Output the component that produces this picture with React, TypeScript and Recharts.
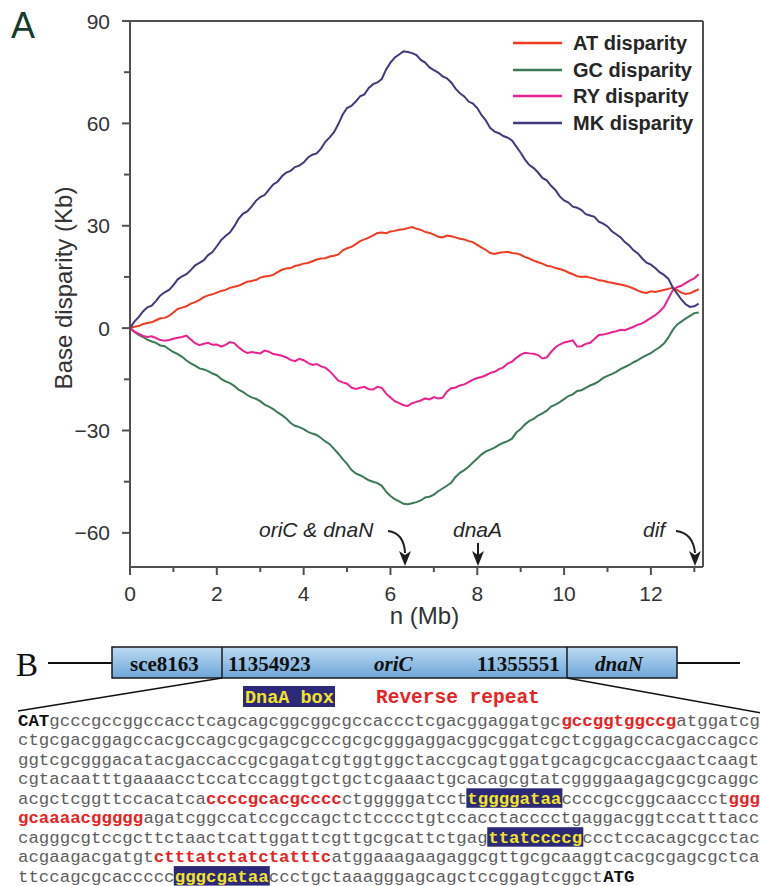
import { LineChart, Line, XAxis, YAxis, ReferenceLine, Legend } from "recharts";

// cumulative base disparity, every 0.1 Mb
const positionsMb = [
    0, 0.1, 0.2, 0.3, 0.4, 0.5, 0.6, 0.7, 0.8, 0.9,
    1.0, 1.1, 1.2, 1.3, 1.4, 1.5, 1.6, 1.7, 1.8, 1.9,
    2.0, 2.1, 2.2, 2.3, 2.4, 2.5, 2.6, 2.7, 2.8, 2.9,
    3.0, 3.1, 3.2, 3.3, 3.4, 3.5, 3.6, 3.7, 3.8, 3.9,
    4.0, 4.1, 4.2, 4.3, 4.4, 4.5, 4.6, 4.7, 4.8, 4.9,
    5.0, 5.1, 5.2, 5.3, 5.4, 5.5, 5.6, 5.7, 5.8, 5.9,
    6.0, 6.1, 6.2, 6.3, 6.4, 6.5, 6.6, 6.7, 6.8, 6.9,
    7.0, 7.1, 7.2, 7.3, 7.4, 7.5, 7.6, 7.7, 7.8, 7.9,
    8.0, 8.1, 8.2, 8.3, 8.4, 8.5, 8.6, 8.7, 8.8, 8.9,
    9.0, 9.1, 9.2, 9.3, 9.4, 9.5, 9.6, 9.7, 9.8, 9.9,
    10.0, 10.1, 10.2, 10.3, 10.4, 10.5, 10.6, 10.7, 10.8, 10.9,
    11.0, 11.1, 11.2, 11.3, 11.4, 11.5, 11.6, 11.7, 11.8, 11.9,
    12.0, 12.1, 12.2, 12.3, 12.4, 12.5, 12.6, 12.7, 12.8, 12.9,
    13.0, 13.1,
];

const atDisparity = [
    0, 0.4, 0.6, 1.2, 1.5, 1.7, 2.3, 2.9, 3.0, 3.6,
    4.6, 5.6, 6.0, 6.4, 7.2, 7.6, 8.3, 9.1, 9.6, 9.9,
    10.4, 10.9, 11.2, 11.8, 12.1, 12.4, 13.0, 13.6, 13.8, 14.1,
    14.8, 15.1, 15.3, 15.6, 16.4, 17.1, 17.5, 17.6, 18.2, 18.5,
    18.9, 19.1, 19.6, 20.1, 20.4, 20.5, 21.0, 21.2, 21.6, 22.8,
    23.4, 23.8, 24.6, 25.5, 26.0, 26.5, 27.2, 27.9, 28.0, 27.8,
    28.3, 28.5, 28.8, 29.0, 29.3, 29.6, 29.1, 28.8, 28.2, 27.9,
    27.4, 26.8, 26.6, 27.1, 26.9, 26.6, 26.2, 26.0, 25.5, 25.2,
    24.4, 23.6, 22.9, 22.0, 21.7, 22.1, 22.2, 22.4, 22.0, 21.9,
    21.5, 20.8, 20.4, 19.8, 19.3, 18.9, 18.3, 18.1, 17.6, 17.3,
    16.9, 16.3, 15.8, 15.2, 15.0, 15.1, 14.8, 14.5, 14.0, 13.9,
    13.5, 13.3, 13.0, 12.8, 12.5, 12.1, 11.6, 11.0, 10.5, 10.3,
    10.8, 10.6, 10.9, 11.2, 11.5, 11.8, 11.2, 10.4, 10.0, 10.2,
    10.8, 11.4,
];

const gcDisparity = [
    0, -1.1, -2.0, -2.6, -3.4, -3.9, -4.3, -5.1, -5.3, -6.2,
    -7.0, -7.6, -8.4, -9.5, -10.3, -11.0, -11.8, -12.1, -12.6, -13.3,
    -13.8, -14.9, -15.6, -16.1, -16.9, -18.0, -18.7, -19.6, -20.3, -20.7,
    -21.4, -22.4, -23.0, -23.7, -24.7, -25.5, -26.5, -27.8, -28.6, -29.0,
    -29.6, -30.4, -30.9, -31.3, -32.2, -33.2, -34.0, -35.4, -36.8, -38.4,
    -39.8, -41.5, -42.6, -43.1, -43.8, -44.6, -45.0, -45.4, -46.2, -47.9,
    -49.2, -50.1, -50.8, -51.5, -51.6, -51.3, -51.0, -50.5, -49.6, -49.4,
    -48.8, -47.8, -47.0, -46.2, -45.3, -43.6, -42.4, -41.6, -40.6, -39.4,
    -38.2, -37.0, -36.1, -35.6, -35.0, -34.2, -33.6, -33.1, -32.4, -30.6,
    -29.6, -28.2, -27.2, -26.6, -25.6, -25.0, -24.2, -23.0, -22.4, -21.7,
    -20.8, -19.9, -19.4, -18.4, -18.2, -17.5, -16.8, -16.3, -15.6, -14.6,
    -14.0, -13.5, -12.8, -12.0, -11.4, -10.8, -10.0, -9.4, -8.6, -7.9,
    -7.3, -6.4, -5.6, -4.5, -2.8, -0.6, 1.0, 1.9, 2.8, 3.6,
    4.4, 4.6,
];

const ryDisparity = [
    0, -1.0, -1.6, -2.3, -2.6, -2.4, -2.9, -3.5, -3.7, -3.5,
    -3.1, -2.8, -2.6, -2.2, -3.3, -4.4, -5.0, -4.6, -4.3, -4.9,
    -4.8, -5.4, -4.9, -4.1, -4.4, -5.6, -6.6, -7.3, -7.0, -7.2,
    -7.4, -6.6, -6.9, -7.6, -7.8, -8.1, -8.6, -9.3, -9.7, -9.0,
    -9.4, -10.2, -10.8, -10.5, -11.2, -11.6, -12.6, -14.0, -15.4, -15.9,
    -16.3, -17.4, -17.8, -17.5, -17.2, -17.9, -18.0, -17.2, -17.5, -19.2,
    -20.3, -21.4, -22.0, -22.6, -22.8, -22.0, -21.6, -21.2, -20.6, -20.9,
    -20.2, -20.6, -20.4, -18.6, -17.6, -17.4, -16.8, -16.5, -15.8, -15.1,
    -14.6, -14.3, -13.8, -13.1, -12.8, -12.0, -11.5, -10.4, -9.8, -8.7,
    -7.8, -7.2, -7.4, -7.5, -7.9, -8.9, -8.6, -7.0, -5.6, -4.8,
    -4.2, -3.9, -3.6, -5.4, -5.3, -4.6, -4.3, -3.2, -2.0, -1.9,
    -1.6, -1.2, -0.9, -0.5, -0.6, -0.1, 0.4, 1.0, 1.4, 2.2,
    3.0, 3.8, 4.9, 6.2, 8.6, 11.0, 12.0, 12.4, 13.2, 14.0,
    14.6, 15.8,
];

const mkDisparity = [
    0, 1.9, 3.2, 4.9, 6.1, 6.6, 8.0, 9.6, 10.5, 11.2,
    12.6, 14.3, 15.2, 15.8, 17.0, 18.4, 19.1, 19.9, 21.4, 22.3,
    24.0, 25.8, 27.0, 28.0, 29.8, 32.0, 33.5, 34.2, 35.6, 37.3,
    38.4, 39.0, 40.6, 42.1, 42.9, 44.5, 45.6, 46.1, 47.2, 47.6,
    48.5, 50.0, 50.8, 51.2, 52.6, 54.6, 55.9, 57.4, 59.8, 62.6,
    64.5, 65.1, 66.4, 67.9, 68.5, 70.4, 71.5, 72.0, 73.0, 75.8,
    77.8, 79.3, 80.2, 81.1, 80.9, 80.6, 80.0, 78.6, 77.8, 76.4,
    75.6, 74.9, 73.8, 73.2, 72.0, 70.2, 68.8, 67.9, 66.4, 65.8,
    64.5, 62.4, 60.8, 58.6, 57.6, 57.1, 56.3, 55.8, 55.0, 53.2,
    51.4, 49.4, 47.8, 46.9, 45.6, 44.0, 43.3, 41.7, 40.5, 38.6,
    37.4, 36.8, 35.6, 35.3, 34.6, 33.4, 33.0, 32.6, 31.2, 30.6,
    29.8, 28.4, 27.5, 26.6, 25.2, 24.2, 22.8, 21.9, 20.4, 19.2,
    18.6, 17.6, 16.4, 15.6, 14.5, 12.0, 10.2, 8.4, 7.0, 6.2,
    6.4, 7.2,
];

const xTicks = [0, 1, 2, 3, 4, 5, 6, 7, 8, 9, 10, 11, 12, 13];
const yTicks = [-60, -45, -30, -15, 0, 15, 30, 45, 60, 75, 90];

const SERIES = [
    { key: "at", name: "AT disparity", color: "#f03b22" },
    { key: "gc", name: "GC disparity", color: "#3b7a55" },
    { key: "ry", name: "RY disparity", color: "#ea2190" },
    { key: "mk", name: "MK disparity", color: "#3d3b7e" },
];

// panel B: oriC region, segments are [text, kind]
// n = plain, r = reverse repeat, h = DnaA box, b = start/stop codon
const SEQ_LINES: [string, string][][] = [
    [["CAT", "b"], ["gcccgccggccacctcagcagcggcggcgccaccctcgacggaggatgc", "n"], ["gccggtggccg", "r"], ["atggatcg", "n"]],
    [["ctgcgacggagccacgccagcgcgagcgcccgcgcgggaggacggcggatcgctcggagccacgaccagcc", "n"]],
    [["ggtcgcgggacatacgaccaccgcgagatcgtggtggctaccgcagtggatgcagcgcaccgaactcaagt", "n"]],
    [["cgtacaatttgaaaacctccatccaggtgctgctcgaaactgcacagcgtatcggggaagagcgcgcaggc", "n"]],
    [["acgctcggttccacatca", "n"], ["ccccgcacgcccc", "r"], ["ctgggggatcct", "n"], ["tggggataa", "h"], ["ccccgccggcaaccct", "n"], ["ggg", "r"]],
    [["gcaaaacggggg", "r"], ["agatcggccatccgccagctctcccctgtccacctacccctgaggacggtccatttacc", "n"]],
    [["cagggcgtccgcttctaactcattggattcgttgcgcattctgag", "n"], ["ttatccccg", "h"], ["ccctccacagcgcctac", "n"]],
    [["acgaagacgatgt", "n"], ["ctttatctatctatttc", "r"], ["atggaaagaagaggcgttgcgcaaggtcacgcgagcgctca", "n"]],
    [["ttccagcgcaccccc", "n"], ["gggcgataa", "h"], ["ccctgctaaagggagcagctccggagtcggct", "n"], ["ATG", "b"]],
];

const chartData = positionsMb.map((n, i) => ({
    n,
    at: atDisparity[i],
    gc: gcDisparity[i],
    ry: ryDisparity[i],
    mk: mkDisparity[i],
}));

const SANS = '"Liberation Sans", Arial, Helvetica, sans-serif';
const SERIF = '"Liberation Serif", "Times New Roman", serif';
const MONO = '"Liberation Mono", "Courier New", monospace';
const AXIS = "#505050";
const RED = "#e8231f";
const NAVY = "#2c2a78";
const YELLOW = "#f2e32a";

const fmt = (v: number) => (v < 0 ? `\u2212${Math.abs(v)}` : `${v}`);

const XTick = ({ x, y, payload }: any) => {
    const major = payload.value % 2 === 0;
    return (
        <g>
            <line x1={x} y1={y} x2={x} y2={y + (major ? 8 : 5)} stroke={AXIS} strokeWidth={2} />
            {major && (
                <text x={x} y={y + 34} textAnchor="middle" fontSize={21} fill="#333" fontFamily={SANS}>
                    {payload.value}
                </text>
            )}
        </g>
    );
};

const YTick = ({ x, y, payload }: any) => {
    const major = payload.value % 30 === 0;
    return (
        <g>
            <line x1={x} y1={y} x2={x - (major ? 8 : 6)} y2={y} stroke={AXIS} strokeWidth={2} />
            {major && (
                <text x={x - 20} y={y + 7.5} textAnchor="end" fontSize={21} fill="#333" fontFamily={SANS}>
                    {fmt(payload.value)}
                </text>
            )}
        </g>
    );
};

const YTitle = ({ viewBox }: any) => {
    const vb = viewBox || { x: 90, y: 21, width: 40, height: 546 };
    const cx = vb.x - 18;
    const cy = vb.y + vb.height / 2 - 6;
    return (
        <text x={cx} y={cy} transform={`rotate(-90 ${cx} ${cy})`} textAnchor="middle" fontSize={24} fill="#333" fontFamily={SANS}>
            Base disparity (Kb)
        </text>
    );
};

const XTitle = ({ viewBox }: any) => {
    const vb = viewBox || { x: 130, y: 567, width: 573, height: 30 };
    return (
        <text x={vb.x + vb.width / 2 + 8} y={vb.y + 57} textAnchor="middle" fontSize={24} fill="#333" fontFamily={SANS}>
            n (Mb)
        </text>
    );
};

const LegendBox = () => (
    <div style={{ fontFamily: SANS, fontWeight: 700, fontSize: 20, color: "#262626" }}>
        {SERIES.map((s) => (
            <div key={s.key} style={{ display: "flex", alignItems: "center", height: 26.5 }}>
                <svg width={49} height={4} style={{ display: "block" }}>
                    <line x1={0} y1={2} x2={49} y2={2} stroke={s.color} strokeWidth={2.5} />
                </svg>
                <span style={{ marginLeft: 11, lineHeight: "26.5px", whiteSpace: "nowrap" }}>{s.name}</span>
            </div>
        ))}
    </div>
);

const Arrowhead = ({ x, y }: { x: number; y: number }) => (
    <path d={`M${x - 6},${y - 15} L${x},${y} L${x + 6},${y - 15} L${x},${y - 11} Z`} fill="#1e1e1e" />
);

const PITCH = 10.45;
const SEQ_X = 18;

const SequenceLine = ({ segments, baseline }: { segments: [string, string][]; baseline: number }) => {
    let idx = 0;
    const parts = segments.map(([txt, kind], i) => {
        const start = idx;
        idx += txt.length;
        return { txt, kind, start, key: i };
    });
    return (
        <g>
            {parts
                .filter((p) => p.kind === "h")
                .map((p) => (
                    <rect
                        key={`bg-${p.key}`}
                        x={SEQ_X + p.start * PITCH - 1}
                        y={baseline - 15.5}
                        width={p.txt.length * PITCH + 2}
                        height={19.5}
                        fill={NAVY}
                    />
                ))}
            <text fontFamily={MONO} fontSize={17.4} y={baseline}>
                {parts.map((p) => (
                    <tspan
                        key={p.key}
                        x={SEQ_X + p.start * PITCH}
                        fill={p.kind === "r" ? RED : p.kind === "h" ? YELLOW : p.kind === "b" ? "#111" : "#5e5e5e"}
                        fontWeight={p.kind === "n" ? 400 : 700}
                    >
                        {p.txt}
                    </tspan>
                ))}
            </text>
        </g>
    );
};

const Overlay = () => (
    <svg width={760} height={886} style={{ position: "absolute", left: 0, top: 0, pointerEvents: "none" }}>
        <defs>
            <linearGradient id="geneFill" x1="0" y1="0" x2="0" y2="1">
                <stop offset="0%" stopColor="#bcdaf3" />
                <stop offset="100%" stopColor="#6ea6d8" />
            </linearGradient>
        </defs>

        {/* panel A */}
        <text x={11} y={38} fontSize={36} fill="#163b2c" fontFamily={SANS}>A</text>

        <text x={259} y={537} fontSize={21} fontStyle="italic" fill="#262626" fontFamily={SANS}>oriC &amp; dnaN</text>
        <path d="M388,531 Q404,533 405,553" fill="none" stroke="#1e1e1e" strokeWidth={2} />
        <Arrowhead x={405} y={566} />

        <text x={453} y={537} fontSize={21} fontStyle="italic" fill="#262626" fontFamily={SANS}>dnaA</text>
        <line x1={478} y1={543} x2={478} y2={556} stroke="#1e1e1e" strokeWidth={2} />
        <Arrowhead x={478} y={566} />

        <text x={643} y={537} fontSize={21} fontStyle="italic" fill="#262626" fontFamily={SANS}>dif</text>
        <path d="M676,531 Q693,533 695,553" fill="none" stroke="#1e1e1e" strokeWidth={2} />
        <Arrowhead x={695} y={566} />

        {/* panel B */}
        <text x={16} y={676} fontSize={33} fill="#111" fontFamily={SERIF}>B</text>
        <line x1={48} y1={663} x2={112} y2={663} stroke="#111" strokeWidth={2} />
        <line x1={677} y1={663} x2={740} y2={663} stroke="#111" strokeWidth={2} />
        <rect x={112} y={647} width={565} height={31} fill="url(#geneFill)" stroke="#1a1a1a" strokeWidth={1.5} />
        <line x1={222} y1={647} x2={222} y2={678} stroke="#1a1a1a" strokeWidth={1.5} />
        <line x1={567} y1={647} x2={567} y2={678} stroke="#1a1a1a" strokeWidth={1.5} />
        <g fontFamily={SERIF} fontSize={21} fontWeight={700} fill="#111">
            <text x={130} y={671}>sce8163</text>
            <text x={228} y={671}>11354923</text>
            <text x={374} y={671} fontStyle="italic">oriC</text>
            <text x={477} y={671}>11355551</text>
            <text x={595} y={671} fontStyle="italic">dnaN</text>
        </g>
        <line x1={222} y1={678} x2={18} y2={711} stroke="#111" strokeWidth={1.5} />
        <line x1={567} y1={678} x2={762} y2={713} stroke="#111" strokeWidth={1.5} />

        <rect x={243} y={686} width={92} height={21} fill={NAVY} />
        <text x={245} y={702.5} fontFamily={MONO} fontSize={18.5} fontWeight={700} fill={YELLOW}>DnaA box</text>
        <text x={376} y={702.5} fontFamily={MONO} fontSize={19.5} fontWeight={700} fill={RED}>Reverse repeat</text>

        {SEQ_LINES.map((segments, i) => (
            <SequenceLine key={i} segments={segments} baseline={726 + i * 19.45} />
        ))}
    </svg>
);

export default function App() {
    return (
        <div style={{ position: "absolute", left: 0, top: 0, width: 760, height: 886, background: "#fff", overflow: "hidden" }}>
            <LineChart width={760} height={640} data={chartData} margin={{ top: 21, right: 57, bottom: 43, left: 90 }}>
                <XAxis
                    dataKey="n"
                    type="number"
                    domain={[0, 13.2]}
                    ticks={xTicks}
                    interval={0}
                    tickSize={0}
                    tickMargin={0}
                    tickLine={false}
                    tick={<XTick />}
                    height={30}
                    axisLine={{ stroke: AXIS, strokeWidth: 2 }}
                    label={XTitle}
                />
                <YAxis
                    type="number"
                    domain={[-70, 90]}
                    ticks={yTicks}
                    interval={0}
                    tickSize={0}
                    tickMargin={0}
                    tickLine={false}
                    tick={<YTick />}
                    width={40}
                    axisLine={{ stroke: AXIS, strokeWidth: 2 }}
                    label={YTitle}
                />
                <ReferenceLine y={90} stroke={AXIS} strokeWidth={2} />
                <ReferenceLine x={13.2} stroke={AXIS} strokeWidth={2} />
                {SERIES.map((s) => (
                    <Line
                        key={s.key}
                        type="linear"
                        dataKey={s.key}
                        name={s.name}
                        stroke={s.color}
                        strokeWidth={2}
                        dot={false}
                        isAnimationActive={false}
                    />
                ))}
                <Legend
                    layout="vertical"
                    align="center"
                    verticalAlign="middle"
                    content={<LegendBox />}
                    wrapperStyle={{ top: 30, left: 513, width: 200, height: 110 }}
                />
            </LineChart>
            <Overlay />
        </div>
    );
}
